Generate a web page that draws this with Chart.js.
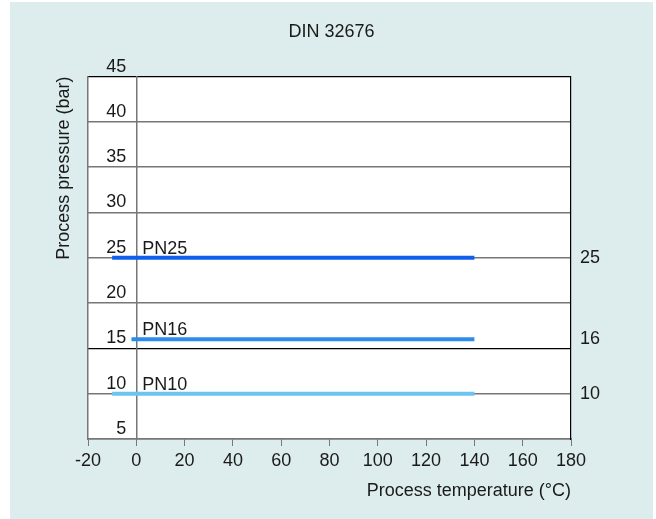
<!DOCTYPE html>
<html>
<head>
<meta charset="utf-8">
<script src="https://cdn.jsdelivr.net/npm/chart.js@4"></script>
<style>
  html, body { margin: 0; padding: 0; background: #fff; }
  #wrap {
    position: absolute; left: 10px; top: 2px;
    width: 643px; height: 517px;
    background: #ddeced;
  }
</style>
</head>
<body>
<div id="wrap"><canvas id="dinChart"></canvas></div>
<script>
// chart values
const seriesNames = ['PN25', 'PN16', 'PN10'];
const pressures = [25, 16, 10];
const tempStart = [-10, -2, -10];
const tempEnd = [140, 140, 140];
const seriesColors = ['#0f5fec', '#2b8ceb', '#6cc5f1'];
const rightTicks = [10, 16, 25];

const FONT = "'Liberation Sans', Arial, sans-serif";
const TEXT = '#1a1a1a';

const datasets = seriesNames.map((name, i) => ({
  label: name,
  data: [
    { x: tempStart[i], y: pressures[i] },
    { x: tempEnd[i], y: pressures[i] }
  ],
  borderColor: seriesColors[i],
  borderWidth: 4,
  borderCapStyle: 'butt',
  pointRadius: 0,
  fill: false
}));

// white plot background
const plotBackground = {
  id: 'plotBackground',
  beforeDraw(chart) {
    const { ctx, chartArea: a } = chart;
    ctx.save();
    ctx.fillStyle = '#ffffff';
    ctx.fillRect(a.left, a.top, a.right - a.left, a.bottom - a.top);
    ctx.restore();
  }
};

// PN labels above each line
const seriesLabels = {
  id: 'seriesLabels',
  afterDatasetsDraw(chart) {
    const { ctx, scales: { x, y } } = chart;
    ctx.save();
    ctx.font = '18px ' + FONT;
    ctx.fillStyle = TEXT;
    ctx.textAlign = 'left';
    ctx.textBaseline = 'alphabetic';
    seriesNames.forEach((name, i) => {
      ctx.fillText(name, x.getPixelForValue(0) + 6, y.getPixelForValue(pressures[i]) - 4);
    });
    ctx.restore();
  }
};

new Chart(document.getElementById('dinChart'), {
  type: 'line',
  data: { datasets },
  plugins: [plotBackground, seriesLabels],
  options: {
    responsive: true,
    maintainAspectRatio: false,
    animation: false,
    layout: { padding: 0 },
    plugins: {
      legend: { display: false },
      tooltip: { enabled: false },
      title: {
        display: true,
        text: 'DIN 32676',
        color: TEXT,
        font: { family: FONT, size: 18, weight: 'normal' },
        padding: { top: 19, bottom: 34 }
      }
    },
    scales: {
      x: {
        type: 'linear',
        position: 'bottom',
        min: -20,
        max: 180,
        ticks: { stepSize: 20, color: TEXT, padding: 4, font: { family: FONT, size: 18 } },
        grid: { drawOnChartArea: false, drawTicks: true, tickLength: 7, color: '#777' },
        border: { color: '#777', width: 1.5 },
        title: {
          display: true,
          text: 'Process temperature (°C)',
          align: 'end',
          color: TEXT,
          font: { family: FONT, size: 18 },
          padding: { top: 0, bottom: 17.5 }
        },
        afterFit(scale) { scale.height = 80; }
      },
      yTitle: {
        type: 'linear',
        axis: 'y',
        position: 'left',
        min: 5,
        max: 45,
        ticks: { display: false },
        grid: { drawOnChartArea: false, drawTicks: false },
        border: { display: true, color: '#777', width: 1.5 },
        title: {
          display: true,
          text: 'Process pressure (bar)',
          align: 'end',
          color: TEXT,
          font: { family: FONT, size: 18 },
          padding: { top: 43, bottom: 0 }
        },
        afterFit(scale) { scale.width = 78; }
      },
      y: {
        type: 'linear',
        position: { x: 0 },
        min: 5,
        max: 45,
        ticks: {
          stepSize: 5,
          color: TEXT,
          labelOffset: -10,
          font: { family: FONT, size: 18 },
          // labels sit just left of the 0 °C line
          callback: (v) => v + '  '
        },
        grid: {
          drawTicks: false,
          color: (ctx) => (ctx.tick && (ctx.tick.value === 15 || ctx.tick.value === 45)) ? '#000' : '#777',
          lineWidth: (ctx) => (ctx.tick && (ctx.tick.value === 15 || ctx.tick.value === 45)) ? 1.2 : 1.5
        },
        border: { display: true, color: '#777', width: 1.5 }
      },
      y2: {
        type: 'linear',
        position: 'right',
        min: 5,
        max: 45,
        afterBuildTicks(scale) {
          scale.ticks = rightTicks.map(v => ({ value: v }));
        },
        ticks: { color: TEXT, padding: 9, font: { family: FONT, size: 18 } },
        grid: { drawOnChartArea: false, drawTicks: false },
        border: { display: true, color: '#000', width: 1.2 },
        afterFit(scale) { scale.width = 82; }
      }
    }
  }
});
</script>
</body>
</html>
